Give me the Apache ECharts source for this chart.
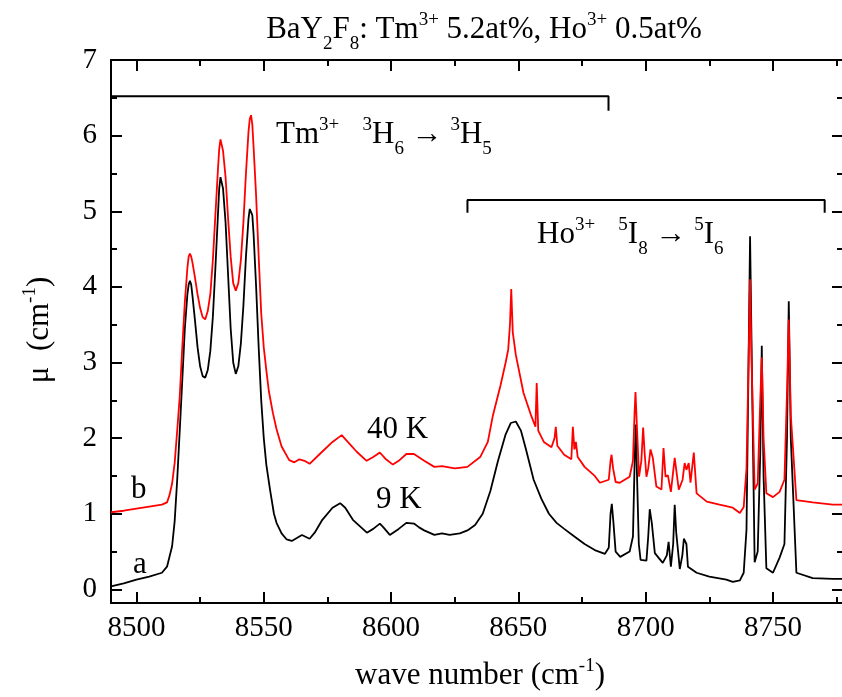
<!DOCTYPE html>
<html><head><meta charset="utf-8">
<script src="https://cdn.jsdelivr.net/npm/echarts@6/dist/echarts.min.js"></script>
<style>html,body{margin:0;padding:0;background:#fff}#c{width:842px;height:697px}</style>
</head><body><div id="c"></div>
<script>
// 9 K curve (a)
const xA = [8490,8495,8500,8505,8510,8512,8514,8515,8516,8517,8518,8519,8520,8520.5,8521,8521.5,8522,8523,8524,8525,8526,8527,8528,8529,8530,8531,8532,8532.5,8533,8533.5,8534,8535,8536,8537,8538,8539,8540,8541,8542,8543,8544,8544.5,8545,8545.5,8546,8547,8548,8549,8550,8551,8552.5,8554,8555,8557,8559,8561,8563,8565,8568,8570,8573,8577,8580,8582,8585,8590.5,8593,8595.6,8597,8599.5,8603,8606,8609,8611,8613,8617,8620,8623,8627,8630,8633,8636,8639,8642,8645,8647,8649,8651,8653,8656,8659,8662,8665,8668,8672,8676,8680,8684,8685.5,8686.2,8686.7,8687.3,8688.2,8690,8693.7,8695,8695.6,8696.1,8696.6,8697.3,8698,8700.3,8701,8701.6,8702.4,8703.6,8706.7,8708.3,8709,8709.9,8710.8,8711.4,8712,8713.4,8714.4,8715,8716,8716.6,8720,8725,8731.7,8734.2,8737,8738.5,8739.6,8740.4,8741,8741.6,8742.8,8744,8745,8745.6,8746.3,8747.4,8750,8752.6,8754.5,8755.5,8756.2,8757,8759.2,8765.6,8773.5,8777.5];
const yA = [0.04,0.08,0.13,0.17,0.22,0.3,0.57,0.9,1.45,2.1,2.77,3.45,3.9,4.03,4.08,4.03,3.88,3.55,3.2,2.95,2.82,2.8,2.9,3.15,3.6,4.25,4.95,5.3,5.45,5.45,5.3,4.85,4.15,3.45,3.0,2.85,2.95,3.25,3.75,4.4,4.9,5.03,5.05,4.95,4.7,4.0,3.2,2.5,2.0,1.65,1.31,1.0,0.88,0.74,0.66,0.64,0.68,0.72,0.67,0.75,0.92,1.08,1.14,1.08,0.92,0.75,0.8,0.87,0.82,0.72,0.8,0.88,0.87,0.82,0.78,0.72,0.74,0.72,0.74,0.78,0.85,1.0,1.3,1.7,2.05,2.2,2.22,2.1,1.85,1.45,1.2,1.0,0.88,0.8,0.7,0.6,0.52,0.47,0.55,1.0,1.13,0.9,0.5,0.43,0.5,0.7,1.6,2.18,1.5,0.6,0.39,0.38,0.7,1.06,0.88,0.48,0.35,0.45,0.63,0.3,0.6,1.12,0.75,0.27,0.45,0.67,0.6,0.3,0.22,0.17,0.13,0.1,0.12,0.22,0.79,3.0,4.67,3.2,0.36,0.5,1.8,3.22,1.5,0.28,0.22,0.42,0.6,2.0,3.81,2.0,0.22,0.15,0.14,0.14];
// 40 K curve (b)
const xB = [8490,8495,8502.5,8510,8512,8513,8514,8515,8516,8517,8518,8519,8520,8520.5,8521,8521.5,8522,8523,8524,8525,8526,8527,8528,8529,8530,8531,8532,8532.5,8533,8533.5,8534,8535,8536,8537,8538,8539,8540,8541,8542,8543,8544,8544.5,8545,8545.5,8546,8547,8548,8549,8550,8551,8552,8553.6,8555,8557,8560,8562,8564,8566,8568,8572,8577,8580.6,8583,8586.5,8590.4,8593,8595.6,8598,8600.7,8603,8606,8609,8613,8617,8620,8625,8630,8635,8638,8640,8643,8645,8646,8646.7,8647.2,8647.8,8649,8652,8655,8656.7,8657.2,8657.8,8660,8663,8664.2,8664.7,8665.3,8668,8670.8,8671.4,8672,8672.6,8673.3,8676,8680,8682,8685.5,8686.2,8686.6,8687.2,8688.2,8689.8,8693.7,8695,8695.6,8696,8696.5,8697.4,8698.3,8699,8699.6,8700.3,8701,8701.9,8702.8,8704.2,8706.2,8707,8707.8,8708.7,8709.9,8711.4,8713,8714.5,8715.3,8716,8716.9,8717.6,8718.9,8720,8724,8729,8734.2,8737,8738.5,8739.6,8740.4,8741,8741.6,8742.8,8744,8745,8745.6,8746.3,8747.4,8750,8752.6,8754.5,8755.5,8756.2,8757,8759.2,8765.6,8773.5,8777.5];
const yB = [1.02,1.04,1.08,1.12,1.15,1.25,1.4,1.67,2.1,2.55,3.2,3.8,4.25,4.4,4.44,4.4,4.32,4.12,3.9,3.72,3.6,3.57,3.68,3.9,4.35,4.95,5.55,5.82,5.95,5.93,5.8,5.45,4.9,4.4,4.05,3.95,4.05,4.35,4.85,5.5,6.05,6.22,6.27,6.15,5.85,5.2,4.4,3.65,3.2,2.9,2.62,2.33,2.12,1.89,1.71,1.68,1.72,1.7,1.66,1.79,1.95,2.04,1.95,1.82,1.7,1.75,1.81,1.72,1.65,1.7,1.79,1.79,1.7,1.62,1.63,1.6,1.62,1.75,1.95,2.3,2.7,3.0,3.17,3.5,3.97,3.4,3.1,2.6,2.3,2.15,2.73,2.1,1.95,1.88,2.0,2.15,1.9,1.78,1.72,2.15,1.85,1.95,1.75,1.62,1.5,1.41,1.45,1.7,1.78,1.6,1.42,1.41,1.49,1.7,2.3,2.61,2.2,1.49,1.7,2.14,1.8,1.49,1.6,1.85,1.74,1.36,1.32,1.87,1.49,1.51,1.29,1.74,1.32,1.45,1.67,1.58,1.67,1.41,1.81,1.27,1.16,1.12,1.08,1.01,1.09,1.6,3.0,4.1,3.0,1.32,1.4,2.5,3.07,2.0,1.27,1.22,1.29,1.45,2.6,3.57,2.3,1.18,1.15,1.12,1.12];
// brackets
const tmBracketX = [8490, 8685.4, 8685.4];
const tmBracketY = [6.52, 6.52, 6.33];
const hoBracketX = [8630, 8630, 8770.3, 8770.3];
const hoBracketY = [4.98, 5.15, 5.15, 4.98];
// ticks
const xMajor = [8500, 8550, 8600, 8650, 8700, 8750];
const xMinor = [8525, 8575, 8625, 8675, 8725, 8775];
const yMajor = [0, 1, 2, 3, 4, 5, 6, 7];
const yMinor = [0.5, 1.5, 2.5, 3.5, 4.5, 5.5, 6.5];

const X_MIN = 8490, X_MAX = 8777.5, Y_MIN = -0.18, Y_MAX = 7;
const FONT = 'Liberation Serif';
const pairs = (xs, ys) => xs.map((x, i) => [x, ys[i]]);

function xAx(pos, ticks, len, line, labels) {
  return {
    type: 'value', position: pos, min: X_MIN, max: X_MAX,
    axisLine: { show: line, onZero: false, lineStyle: { color: '#000', width: 2 } },
    axisTick: { show: true, inside: true, length: len, customValues: ticks, lineStyle: { color: '#000', width: 2 } },
    axisLabel: labels ? { show: true, customValues: ticks, formatter: v => String(v), fontFamily: FONT, fontSize: 29, color: '#000', margin: 11 } : { show: false },
    splitLine: { show: false }
  };
}
function yAx(pos, ticks, len, line, labels) {
  return {
    type: 'value', position: pos, min: Y_MIN, max: Y_MAX,
    axisLine: { show: line, onZero: false, lineStyle: { color: '#000', width: 2 } },
    axisTick: { show: true, inside: true, length: len, customValues: ticks, lineStyle: { color: '#000', width: 2 } },
    axisLabel: labels ? { show: true, customValues: ticks, formatter: v => String(v), fontFamily: FONT, fontSize: 29, color: '#000', margin: 14 } : { show: false },
    splitLine: { show: false }
  };
}

const chart = echarts.init(document.getElementById('c'));
const rich = {
  m: { fontFamily: FONT, fontSize: 31, lineHeight: 48, color: '#000', verticalAlign: 'middle' },
  sp: { fontFamily: FONT, fontSize: 19, lineHeight: 19, color: '#000', verticalAlign: 'top', padding: [5, 0, 0, 0] },
  sb: { fontFamily: FONT, fontSize: 19, lineHeight: 19, color: '#000', verticalAlign: 'bottom' }
};
function txt(x, y, text, align, rot) {
  return { type: 'text', x: x, y: y, rotation: rot || 0, z: 10,
    style: { text: text, rich: rich, align: align || 'left', verticalAlign: 'middle', fill: '#000', fontFamily: FONT, fontSize: 31 } };
}

chart.setOption({
  animation: false,
  backgroundColor: '#fff',
  grid: { left: 111, top: 60, width: 732, height: 543, outerBoundsMode: 'none' },
  xAxis: [xAx('bottom', xMajor, 11, true, true), xAx('bottom', xMinor, 6, false, false),
          xAx('top', xMajor, 11, true, false), xAx('top', xMinor, 6, false, false)],
  yAxis: [yAx('left', yMajor, 11, true, true), yAx('left', yMinor, 6, false, false),
          yAx('right', yMajor, 11, true, false), yAx('right', yMinor, 6, false, false)],
  series: [
    { type: 'line', name: '9 K', data: pairs(xA, yA), symbol: 'none', lineStyle: { color: '#000', width: 1.8 }, z: 2 },
    { type: 'line', name: '40 K', data: pairs(xB, yB), symbol: 'none', lineStyle: { color: '#ff0000', width: 1.8 }, z: 3 },
    { type: 'line', name: 'Tm bracket', data: pairs(tmBracketX, tmBracketY), symbol: 'none', lineStyle: { color: '#000', width: 2 }, z: 4 },
    { type: 'line', name: 'Ho bracket', data: pairs(hoBracketX, hoBracketY), symbol: 'none', lineStyle: { color: '#000', width: 2 }, z: 4 }
  ],
  graphic: [
    txt(484, 30, '{m|BaY}{sb|2}{m|F}{sb|8}{m|: Tm}{sp|3+}{m| 5.2at%, Ho}{sp|3+}{m| 0.5at%}', 'center'),
    txt(480, 676, '{m|wave number (cm}{sp|-1}{m|)}', 'center'),
    txt(40, 330, '{m|μ  (cm}{sp|-1}{m|)}', 'center', Math.PI / 2),
    txt(276, 135, '{m|Tm}{sp|3+}{m|   }{sp|3}{m|H}{sb|6}{m| → }{sp|3}{m|H}{sb|5}', 'left'),
    txt(537, 235, '{m|Ho}{sp|3+}{m|   }{sp|5}{m|I}{sb|8}{m| → }{sp|5}{m|I}{sb|6}', 'left'),
    txt(367, 430, '{m|40 K}', 'left'),
    txt(376, 500, '{m|9 K}', 'left'),
    txt(131, 490, '{m|b}', 'left'),
    txt(133, 565, '{m|a}', 'left')
  ]
});
</script></body></html>
